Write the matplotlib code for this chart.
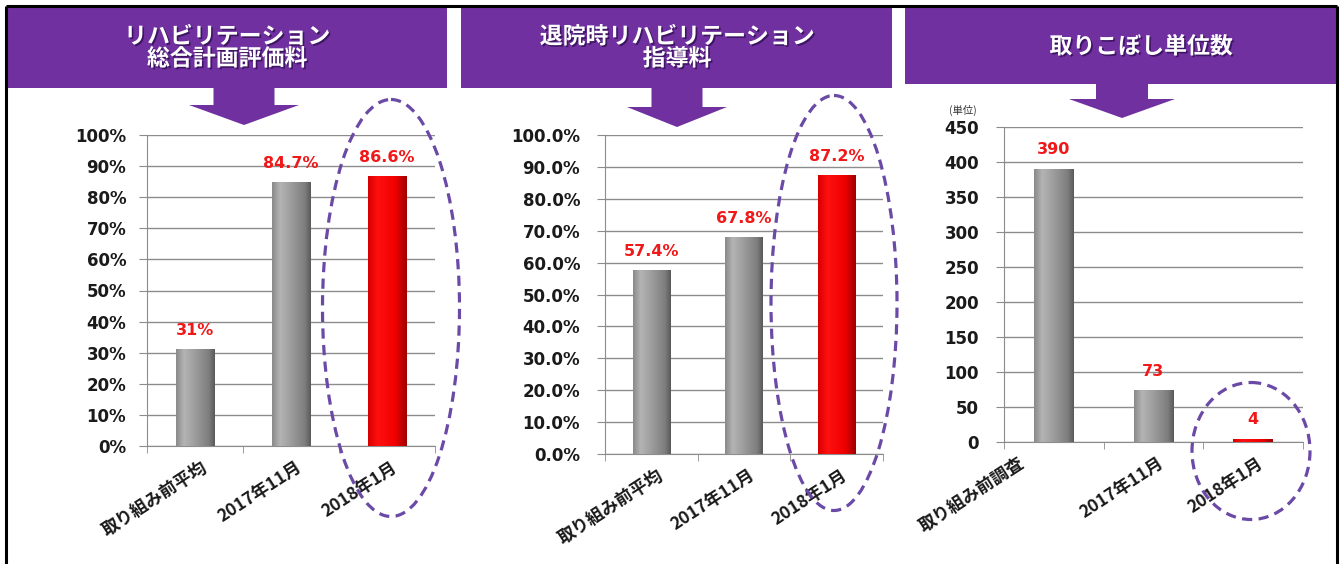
import numpy as np
import matplotlib
matplotlib.use("Agg")
import matplotlib.pyplot as plt
import matplotlib.patheffects as pe
from matplotlib.patches import Rectangle, Polygon, Ellipse
from matplotlib.colors import LinearSegmentedColormap
from matplotlib.transforms import ScaledTranslation

# ---- data ----
titles_plan = ["リハビリテーション", "総合計画評価料"]
titles_guide = ["退院時リハビリテーション", "指導料"]
titles_missed = ["取りこぼし単位数"]

cats_plan = ["取り組み前平均", "2017年11月", "2018年1月"]
cats_guide = ["取り組み前平均", "2017年11月", "2018年1月"]
cats_missed = ["取り組み前調査", "2017年11月", "2018年1月"]

rate_plan = [0.31, 0.847, 0.866]
labels_plan = ["31%", "84.7%", "86.6%"]
rate_guide = [0.574, 0.678, 0.872]
labels_guide = ["57.4%", "67.8%", "87.2%"]
missed_units = [390, 73, 4]
labels_missed = ["390", "73", "4"]

W, H = 1340, 564
JP = ["Noto Sans CJK JP", "DejaVu Sans"]
PURPLE = "#7030A0"
DASH = "#6a4aa6"
GRID = "#8c8c8c"

gray_cm = LinearSegmentedColormap.from_list(
    "g", [(0, "#8a8a8a"), (0.2, "#b4b4b4"), (0.5, "#9c9c9c"), (0.85, "#7e7e7e"), (1, "#5a5a5a")])
red_cm = LinearSegmentedColormap.from_list(
    "r", [(0, "#d80000"), (0.25, "#ff1010"), (0.7, "#f00000"), (1, "#a00000")])
grad = np.linspace(0, 1, 64).reshape(1, -1)

fig = plt.figure(figsize=(W / 100, H / 100), dpi=100)
fig.patch.set_facecolor("white")


def px_box(x0, x1, ytop, ybot):
    return [x0 / W, 1 - ybot / H, (x1 - x0) / W, (ybot - ytop) / H]


def draw_panel(rect, cats, vals, labels, ymax, ystep, fmt, ypad, shifts):
    ax = fig.add_axes(rect)
    x = np.arange(len(vals))
    bars = ax.bar(x, vals, width=0.4, color="none", edgecolor="none", zorder=3)
    for i, b in enumerate(bars):
        cm = red_cm if i == len(bars) - 1 else gray_cm
        x0 = b.get_x()
        ax.imshow(grad, cmap=cm, aspect="auto", zorder=3,
                  extent=(x0, x0 + b.get_width(), 0, b.get_height()))
    ax.set_xlim(-0.5, len(vals) - 0.5)
    ax.set_ylim(0, ymax)

    ax.set_yticks(np.arange(0, ymax + ystep / 2, ystep))
    ax.set_yticklabels([fmt(v) for v in np.arange(0, ymax + ystep / 2, ystep)])
    ax.yaxis.grid(True, color=GRID, lw=1)
    ax.set_axisbelow(True)
    ax.tick_params(axis="y", length=6, color=GRID, pad=ypad,
                   labelsize=12, labelcolor="#1a1a1a")
    for t in ax.get_yticklabels():
        t.set_fontweight("bold")

    ax.set_xticks(x)
    ax.set_xticklabels(cats, rotation=33, ha="right", va="top",
                       rotation_mode="anchor", family=JP,
                       fontweight="bold", fontsize=12.5, color="#1a1a1a")
    ax.set_xticks(np.arange(-0.5, len(vals)), minor=True)
    ax.tick_params(axis="x", which="major", length=0, pad=9)
    ax.tick_params(axis="x", which="minor", length=5, color=GRID)
    for t, dx in zip(ax.get_xticklabels(), shifts):
        t.set_transform(t.get_transform() + ScaledTranslation(dx / 100, 0, fig.dpi_scale_trans))

    for s in ["top", "right"]:
        ax.spines[s].set_visible(False)
    for s in ["left", "bottom"]:
        ax.spines[s].set_color(GRID)

    for xi, v, lab in zip(x, vals, labels):
        ax.annotate(lab, (xi, v), xytext=(0, 14), textcoords="offset points",
                    ha="center", va="center", color="#f01818",
                    fontweight="bold", fontsize=11.5)
    return ax


draw_panel(px_box(147, 435, 135, 446), cats_plan, rate_plan, labels_plan,
           1.0, 0.1, lambda v: f"{v * 100:.0f}%", 9, [6, 4, 4])
draw_panel(px_box(605, 883, 135, 454), cats_guide, rate_guide, labels_guide,
           1.0, 0.1, lambda v: f"{v * 100:.1f}%", 12, [6, 4, 4])
draw_panel(px_box(1004, 1303, 127, 442), cats_missed, missed_units, labels_missed,
           450, 50, lambda v: f"{v:.0f}", 12, [-36, 4, 4])

# ---- overlay: banners, arrows, ellipses, frame ----
ov = fig.add_axes([0, 0, 1, 1], zorder=10)
ov.set_xlim(0, W)
ov.set_ylim(H, 0)
ov.axis("off")
ov.patch.set_alpha(0)

shadow = [pe.withSimplePatchShadow(offset=(1.2, -1.2), shadow_rgbFace="#2a0a4a", alpha=0.7)]

banners = [(7, 447, 8, 88), (461, 892, 8, 88), (905, 1337, 8, 84)]
for x0, x1, y0, y1 in banners:
    ov.add_patch(Rectangle((x0, y0), x1 - x0, y1 - y0, color=PURPLE, lw=0))

title_kw = dict(ha="center", va="center", color="white", fontsize=16.5,
                fontweight="bold", family=JP, path_effects=shadow,
                multialignment="center", linespacing=0.95)
ov.text(227, 48, "\n".join(titles_plan), **title_kw)
ov.text(677, 48, "\n".join(titles_guide), **title_kw)
ov.text(1141, 47, titles_missed[0], **title_kw)


def down_arrow(cx, sw, hw, ytop, yhead, ytip):
    pts = [(cx - sw / 2, ytop), (cx + sw / 2, ytop), (cx + sw / 2, yhead),
           (cx + hw / 2, yhead), (cx, ytip), (cx - hw / 2, yhead), (cx - sw / 2, yhead)]
    ov.add_patch(Polygon(pts, closed=True, color=PURPLE, lw=0))


down_arrow(244, 61, 110, 88, 105, 125)
down_arrow(677, 51, 100, 88, 107, 127)
down_arrow(1122, 52, 106, 84, 99, 118)

for cx, cy, ew, eh in [(391, 308, 137, 417), (834, 303, 126, 415), (1251, 451, 118, 137)]:
    ov.add_patch(Ellipse((cx, cy), ew, eh, fill=False, ec=DASH, lw=2.3,
                         ls=(0, (3.2, 2.0))))

ov.text(963, 110, "(単位)", ha="center", va="center", fontsize=7.5,
        color="#333333", family=JP)

for xs, ys in [([6, 6], [6, H]), ([6, 1337], [6, 6]), ([1337, 1337], [6, H])]:
    ov.plot(xs, ys, color="black", lw=2.2, solid_capstyle="butt")

fig.savefig("out.png", dpi=100, facecolor="white")
